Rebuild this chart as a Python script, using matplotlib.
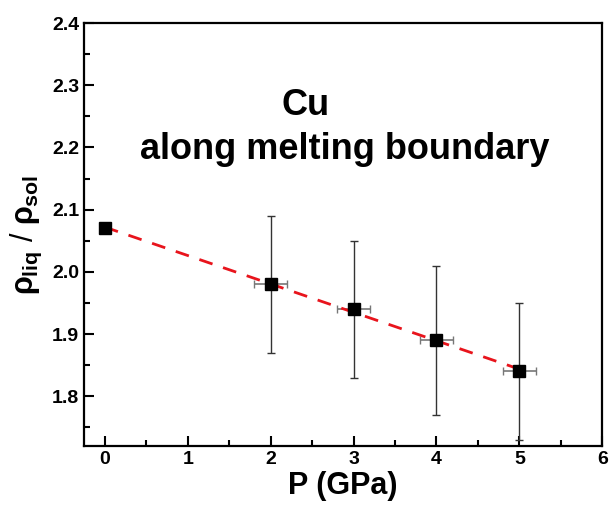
import numpy as np
import matplotlib
matplotlib.use("Agg")
import matplotlib.pyplot as plt
from matplotlib.ticker import MultipleLocator

plt.rcParams['font.family'] = ['Liberation Sans', 'DejaVu Sans']
plt.rcParams['font.weight'] = 'bold'
plt.rcParams['mathtext.fontset'] = 'custom'
plt.rcParams['mathtext.rm'] = 'Liberation Sans:bold'
plt.rcParams['mathtext.it'] = 'Liberation Sans:bold'
plt.rcParams['mathtext.bf'] = 'Liberation Sans:bold'

# data
pressure = [0, 2, 3, 4, 5]
ratio = [2.07, 1.98, 1.94, 1.89, 1.84]
ratio_err = [0.0, 0.11, 0.11, 0.12, 0.11]
pressure_err = [0.0, 0.2, 0.2, 0.2, 0.2]

fig = plt.figure(figsize=(6.09, 5.12), dpi=100)
ax = fig.add_axes([0.138, 0.129, 0.851, 0.826])

# linear fit line
coef = np.polyfit(pressure, ratio, 1)
xf = np.array([pressure[0], pressure[-1]])
ax.plot(xf, np.polyval(coef, xf), '--', color='#e8141c', lw=2, dashes=(5, 4), zorder=3)

# error bars (skip the 0 GPa point, it has none)
ax.errorbar(pressure[1:], ratio[1:], yerr=ratio_err[1:], fmt='none',
            ecolor='#333333', elinewidth=1, capsize=3, zorder=2)
ax.errorbar(pressure[1:], ratio[1:], xerr=pressure_err[1:], fmt='none',
            ecolor='#777777', elinewidth=1.2, capsize=3, zorder=2)
ax.plot(pressure, ratio, 's', color='black', ms=9, zorder=4)

ax.set_xlim(-0.25, 6)
ax.set_ylim(1.72, 2.4)
ax.xaxis.set_major_locator(MultipleLocator(1))
ax.xaxis.set_minor_locator(MultipleLocator(0.5))
ax.yaxis.set_major_locator(MultipleLocator(0.1))
ax.yaxis.set_minor_locator(MultipleLocator(0.05))
ax.tick_params(which='both', direction='in', width=1.5, labelsize=14)
ax.tick_params(which='major', length=7)
ax.tick_params(which='minor', length=4)
for s in ax.spines.values():
    s.set_linewidth(1.6)

ax.set_xlabel('P (GPa)', fontsize=22, fontweight='bold', labelpad=2)
ax.set_ylabel(r'$\rho_{liq}$ / $\rho_{sol}$', fontsize=22, labelpad=6)

ax.text(2.42, 2.268, 'Cu', fontsize=26, fontweight='bold', ha='center', va='center')
ax.text(2.89, 2.196, 'along melting boundary', fontsize=26, fontweight='bold',
        ha='center', va='center')

fig.savefig('out.png', dpi=100)
